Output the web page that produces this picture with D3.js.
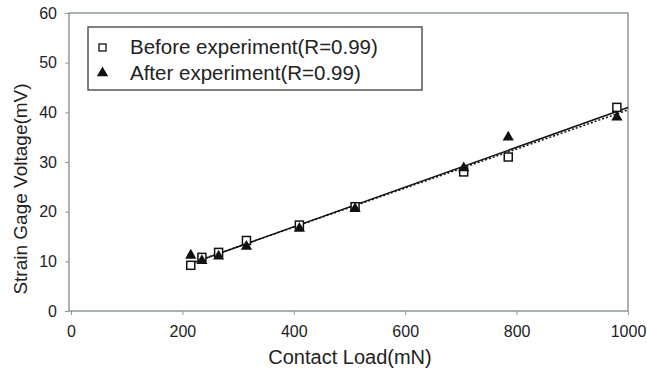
<!DOCTYPE html>
<html><head><meta charset="utf-8">
<script src="https://cdn.jsdelivr.net/npm/d3@7"></script>
<style>body{margin:0;background:#fff;} text{font-family:"Liberation Sans",Arial,sans-serif;fill:#222;}</style>
</head><body>
<svg id="c" width="647" height="381"></svg>
<script>
const loads = [215, 235, 265, 315, 410, 510, 705, 785, 980];
const before = [9.2, 10.8, 11.8, 14.2, 17.3, 21.0, 28.0, 31.0, 41.0];
const after = [11.2, 10.1, 11.0, 13.0, 16.6, 20.6, 28.8, 35.0, 39.0];
const xTicks = [0, 200, 400, 600, 800, 1000];
const yTicks = [0, 10, 20, 30, 40, 50, 60];
const legendLabels = ["Before experiment(R=0.99)", "After experiment(R=0.99)"];

const svg = d3.select("#c");
const L = 69, R = 628, T = 13, B = 311;
const x = d3.scaleLinear().domain([0, 1000]).range([71, 628]);
const y = d3.scaleLinear().domain([0, 60]).range([B, T]);
const frame = "#8d9b97";

svg.append("rect").attr("x", L).attr("y", T).attr("width", R - L).attr("height", B - T)
  .attr("fill", "#fff").attr("stroke", frame).attr("stroke-width", 1.5);

const xa = svg.append("g").attr("transform", `translate(0,${B})`)
  .call(d3.axisBottom(x).tickValues(xTicks).tickSize(4).tickPadding(11).tickFormat(d3.format("d")));
const ya = svg.append("g").attr("transform", `translate(${L},0)`)
  .call(d3.axisLeft(y).tickValues(yTicks).tickSize(4).tickPadding(8));
[xa, ya].forEach(a => {
  a.select(".domain").remove();
  a.selectAll("line").attr("stroke", frame);
  a.selectAll("text").style("font-size", "16px").attr("fill", "#222");
});

function fit(xs, ys) {
  const mx = d3.mean(xs), my = d3.mean(ys);
  const b = d3.sum(xs, (v, i) => (v - mx) * (ys[i] - my)) / d3.sum(xs, v => (v - mx) ** 2);
  return [b, my - b * mx];
}
const x0 = d3.min(loads), x1 = 1000;
[[before, "2,2"], [after, null]].forEach(([ys, dash]) => {
  const [b, a] = fit(loads, ys);
  svg.append("line").attr("x1", x(x0)).attr("y1", y(a + b * x0))
    .attr("x2", x(x1)).attr("y2", y(a + b * x1))
    .attr("stroke", "#111").attr("stroke-width", 1.5)
    .attr("stroke-dasharray", dash);
});

const tri = d3.symbol().type(d3.symbolTriangle).size(55);
svg.append("g").selectAll("rect").data(loads).join("rect")
  .attr("x", (d) => x(d) - 4).attr("y", (d, i) => y(before[i]) - 4)
  .attr("width", 8).attr("height", 8).attr("fill", "#fff").attr("stroke", "#111").attr("stroke-width", 1.5);
svg.append("g").selectAll("path").data(loads).join("path")
  .attr("d", tri).attr("fill", "#111")
  .attr("transform", (d, i) => `translate(${x(d)},${y(after[i])})`);

// legend
svg.append("rect").attr("x", 88).attr("y", 27).attr("width", 334).attr("height", 63)
  .attr("fill", "#fff").attr("stroke", "#555").attr("stroke-width", 1.5);
svg.append("rect").attr("x", 99).attr("y", 44).attr("width", 7).attr("height", 7)
  .attr("fill", "#fff").attr("stroke", "#111").attr("stroke-width", 1.3);
svg.append("path").attr("d", tri).attr("fill", "#111").attr("transform", "translate(102.5,73)");
legendLabels.forEach((t, i) => {
  svg.append("text").attr("x", 130).attr("y", 54 + i * 26).style("font-size", "20.5px").text(t);
});

svg.append("text").attr("x", 350).attr("y", 364).attr("text-anchor", "middle")
  .style("font-size", "20px").text("Contact Load(mN)");
svg.append("text").attr("transform", "translate(27,189) rotate(-90)").attr("text-anchor", "middle")
  .style("font-size", "19px").text("Strain Gage Voltage(mV)");
</script>
</body></html>
